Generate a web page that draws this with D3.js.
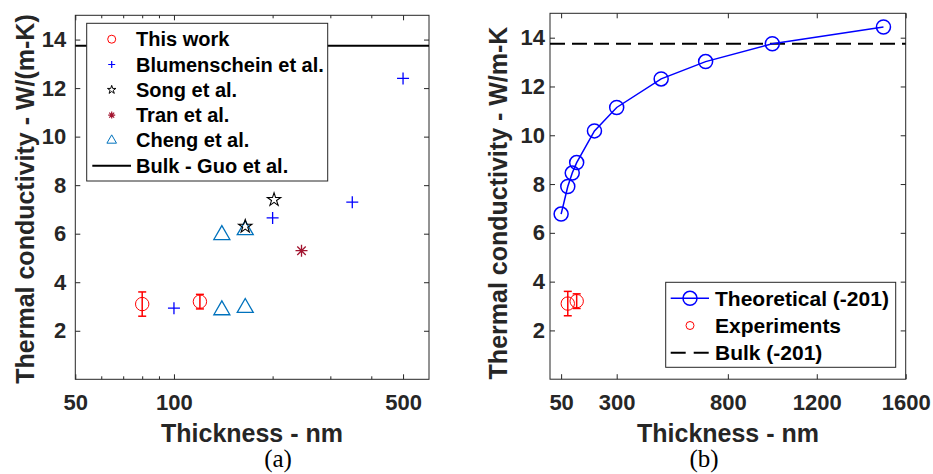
<!DOCTYPE html>
<html>
    <head>
        <title>Thermal conductivity vs thickness</title>
        <style>
            html, body { margin: 0; padding: 0; background: #fff; }
            text { font-family: "Liberation Sans", Arial, sans-serif; font-weight: bold; }
        </style>
        <script src="https://cdnjs.cloudflare.com/ajax/libs/d3/7.8.5/d3.min.js"></script>
    </head>
    <body>
        <div id="chart"></div>
        <script type="text/javascript">
            // panel (a) - literature comparison
            var thisWorkX = [80, 120], thisWorkY = [3.1, 3.2], thisWorkErr = [0.5, 0.3];
            var blumX = [100, 200, 350, 500], blumY = [2.93, 6.65, 7.3, 12.4];
            var songX = [165, 202], songY = [6.3, 7.4];
            var tranX = [245], tranY = [5.3];
            var chengX = [140, 165, 140, 165], chengY = [5.95, 6.15, 2.85, 2.95];
            var bulkGuo = 13.75;
            var legendA = ["This work", "Blumenschein et al.", "Song et al.", "Tran et al.", "Cheng et al.", "Bulk - Guo et al."];
            var xTicksA = [50, 100, 500], xMinorA = [60, 70, 80, 90, 200, 300, 400];

            // panel (b) - theory vs experiment
            var theoX = [50, 80, 100, 120, 200, 300, 500, 700, 1000, 1500];
            var theoY = [6.77, 7.9, 8.45, 8.88, 10.18, 11.14, 12.31, 13.02, 13.75, 14.44];
            var expX = [80, 120], expY = [3.1, 3.2], expErr = [0.5, 0.3];
            var bulk201 = 13.75;
            var legendB = ["Theoretical (-201)", "Experiments", "Bulk (-201)"];
            var xTicksB = [50, 300, 800, 1200, 1600];
            var yTicks = [2, 4, 6, 8, 10, 12, 14];

            var w = 933, h = 474;
            var axisColor = "#262626";
            var svg = d3.select("#chart").append("svg").attr("width", w).attr("height", h);

            var xa = d3.scaleLog().domain([50, 600]).range([75.3, 429]);
            var ya = d3.scaleLinear().domain([0, 15]).range([379.3, 15.3]);
            var xb = d3.scaleLinear().domain([0, 1600]).range([550, 905.7]);
            var yb = d3.scaleLinear().domain([0, 15]).range([379.2, 13.3]);

            function plus(s) { return `M${-s},0H${s}M0,${-s}V${s}`; }
            function asterisk(s) {
                var d = s * 0.7071;
                return plus(s) + `M${-d},${-d}L${d},${d}M${-d},${d}L${d},${-d}`;
            }

            function drawAxes(x, y, xTicks, xMinor, fmt, yPad) {
                var x0 = x.range()[0], x1 = x.range()[1], y0 = y.range()[0], y1 = y.range()[1];
                var g = svg.append("g");
                g.append("g").attr("transform", `translate(0,${y0})`)
                    .call(d3.axisBottom(x).tickValues(xTicks).tickFormat(fmt).tickSizeInner(-5).tickSizeOuter(0).tickPadding(15));
                g.append("g").attr("transform", `translate(0,${y1})`)
                    .call(d3.axisTop(x).tickValues(xTicks).tickFormat("").tickSizeInner(-5).tickSizeOuter(0));
                if (xMinor.length) {
                    g.append("g").attr("transform", `translate(0,${y0})`)
                        .call(d3.axisBottom(x).tickValues(xMinor).tickFormat("").tickSizeInner(-3).tickSizeOuter(0));
                    g.append("g").attr("transform", `translate(0,${y1})`)
                        .call(d3.axisTop(x).tickValues(xMinor).tickFormat("").tickSizeInner(-3).tickSizeOuter(0));
                }
                g.append("g").attr("transform", `translate(${x0},0)`)
                    .call(d3.axisLeft(y).tickValues(yTicks).tickSizeInner(-5).tickSizeOuter(0).tickPadding(yPad));
                g.append("g").attr("transform", `translate(${x1},0)`)
                    .call(d3.axisRight(y).tickValues(yTicks).tickFormat("").tickSizeInner(-5).tickSizeOuter(0));
                g.selectAll(".domain").remove();
                g.selectAll(".tick line").attr("stroke", axisColor);
                g.selectAll(".tick text").attr("fill", axisColor).style("font-size", "22px");
                g.append("rect").attr("x", x0).attr("y", y1).attr("width", x1 - x0).attr("height", y0 - y1)
                    .attr("fill", "none").attr("stroke", axisColor).attr("stroke-width", 1);
            }

            function errorBars(x, y, xs, ys, es) {
                var g = svg.append("g").attr("stroke", "#ff0000").attr("stroke-width", 1.5);
                xs.forEach(function(v, i) {
                    var cx = x(v), t = y(ys[i] + es[i]), b = y(ys[i] - es[i]);
                    g.append("line").attr("x1", cx).attr("x2", cx).attr("y1", t).attr("y2", b);
                    g.append("line").attr("x1", cx - 4).attr("x2", cx + 4).attr("y1", t).attr("y2", t);
                    g.append("line").attr("x1", cx - 4).attr("x2", cx + 4).attr("y1", b).attr("y2", b);
                });
                svg.selectAll(null).data(xs).enter().append("circle")
                    .attr("cx", function(d) { return x(d); })
                    .attr("cy", function(d, i) { return y(ys[i]); })
                    .attr("r", 6.7).attr("fill", "none").attr("stroke", "#ff0000").attr("stroke-width", 1);
            }

            // ---------- panel (a)
            drawAxes(xa, ya, xTicksA, xMinorA, d3.format("d"), 9);

            svg.append("line").attr("x1", xa.range()[0]).attr("x2", xa.range()[1])
                .attr("y1", ya(bulkGuo)).attr("y2", ya(bulkGuo))
                .attr("stroke", "#000").attr("stroke-width", 2);

            errorBars(xa, ya, thisWorkX, thisWorkY, thisWorkErr);

            svg.selectAll(".blum").data(blumX).enter().append("path")
                .attr("transform", function(d, i) { return `translate(${xa(d)},${ya(blumY[i])})`; })
                .attr("d", plus(6)).attr("stroke", "#0000ff").attr("stroke-width", 1.3).attr("fill", "none");

            svg.selectAll(".cheng").data(chengX).enter().append("path")
                .attr("transform", function(d, i) { return `translate(${xa(d)},${ya(chengY[i])})`; })
                .attr("d", d3.symbol(d3.symbolTriangle, 111)()).attr("stroke", "#0072bd").attr("stroke-width", 1.3).attr("fill", "none");

            svg.selectAll(".song").data(songX).enter().append("path")
                .attr("transform", function(d, i) { return `translate(${xa(d)},${ya(songY[i])})`; })
                .attr("d", d3.symbol(d3.symbolStar, 55)()).attr("stroke", "#000").attr("stroke-width", 1.1).attr("fill", "none");

            svg.selectAll(".tran").data(tranX).enter().append("path")
                .attr("transform", function(d, i) { return `translate(${xa(d)},${ya(tranY[i])})`; })
                .attr("d", asterisk(6)).attr("stroke", "#a2142f").attr("stroke-width", 1.3).attr("fill", "none");

            // legend (a)
            var la = svg.append("g");
            la.append("rect").attr("x", 86.7).attr("y", 23.3).attr("width", 241).attr("height", 157.7)
                .attr("fill", "#fff").attr("stroke", axisColor).attr("stroke-width", 1);
            var lay = d3.scalePoint().domain(legendA).range([39.2, 165.7]);
            var mx = 111.7;
            la.append("circle").attr("cx", mx).attr("cy", lay(legendA[0])).attr("r", 4).attr("fill", "none").attr("stroke", "#ff0000");
            la.append("path").attr("transform", `translate(${mx},${lay(legendA[1])})`).attr("d", plus(3.5)).attr("stroke", "#0000ff").attr("stroke-width", 1.2);
            la.append("path").attr("transform", `translate(${mx},${lay(legendA[2])})`).attr("d", d3.symbol(d3.symbolStar, 22)()).attr("stroke", "#000").attr("fill", "none");
            la.append("path").attr("transform", `translate(${mx},${lay(legendA[3])})`).attr("d", asterisk(3.5)).attr("stroke", "#a2142f").attr("stroke-width", 1.2);
            la.append("path").attr("transform", `translate(${mx},${lay(legendA[4])})`).attr("d", d3.symbol(d3.symbolTriangle, 40)()).attr("stroke", "#0072bd").attr("fill", "none");
            la.append("line").attr("x1", 92.3).attr("x2", 131).attr("y1", lay(legendA[5])).attr("y2", lay(legendA[5])).attr("stroke", "#000").attr("stroke-width", 2);
            la.selectAll("text").data(legendA).enter().append("text")
                .attr("x", 136).attr("y", function(d) { return lay(d) + 7; })
                .style("font-size", "20px").attr("fill", "#000").text(function(d) { return d; });

            // ---------- panel (b)
            drawAxes(xb, yb, xTicksB, [], d3.format("d"), 5);

            svg.append("line").attr("x1", xb.range()[0]).attr("x2", xb.range()[1])
                .attr("y1", yb(bulk201)).attr("y2", yb(bulk201))
                .attr("stroke", "#000").attr("stroke-width", 2).attr("stroke-dasharray", "15,7");

            var line = d3.line().x(function(d) { return xb(d); }).y(function(d, i) { return yb(theoY[i]); });
            svg.append("path").attr("d", line(theoX)).attr("fill", "none").attr("stroke", "#0000ff").attr("stroke-width", 1.5);
            svg.selectAll(".theo").data(theoX).enter().append("circle")
                .attr("cx", function(d) { return xb(d); })
                .attr("cy", function(d, i) { return yb(theoY[i]); })
                .attr("r", 7).attr("fill", "none").attr("stroke", "#0000ff").attr("stroke-width", 1.5);

            errorBars(xb, yb, expX, expY, expErr);

            // legend (b)
            var lb = svg.append("g");
            lb.append("rect").attr("x", 665.7).attr("y", 282.3).attr("width", 230).attr("height", 85)
                .attr("fill", "#fff").attr("stroke", axisColor).attr("stroke-width", 1);
            var lby = d3.scalePoint().domain(legendB).range([298.3, 352.7]);
            lb.append("line").attr("x1", 670.7).attr("x2", 709).attr("y1", lby(legendB[0])).attr("y2", lby(legendB[0])).attr("stroke", "#0000ff").attr("stroke-width", 1.5);
            lb.append("circle").attr("cx", 690).attr("cy", lby(legendB[0])).attr("r", 7).attr("fill", "none").attr("stroke", "#0000ff").attr("stroke-width", 1.5);
            lb.append("circle").attr("cx", 690).attr("cy", lby(legendB[1])).attr("r", 4).attr("fill", "none").attr("stroke", "#ff0000");
            lb.append("line").attr("x1", 670.7).attr("x2", 709).attr("y1", lby(legendB[2])).attr("y2", lby(legendB[2])).attr("stroke", "#000").attr("stroke-width", 2).attr("stroke-dasharray", "15,8");
            lb.selectAll("text").data(legendB).enter().append("text")
                .attr("x", 715).attr("y", function(d) { return lby(d) + 7.5; })
                .style("font-size", "21px").attr("fill", "#000").text(function(d) { return d; });

            // axis titles and panel captions
            var titles = svg.append("g").attr("fill", axisColor).style("font-size", "25px").attr("text-anchor", "middle");
            titles.append("text").attr("x", 252).attr("y", 442).text("Thickness - nm");
            titles.append("text").attr("x", 728).attr("y", 442).text("Thickness - nm");
            titles.append("text").attr("transform", "translate(33.5,199) rotate(-90)").text("Thermal conductivity - W/(m-K)");
            titles.append("text").attr("transform", "translate(507,203) rotate(-90)").text("Thermal conductivity - W/m-K");

            svg.append("text").attr("x", 278).attr("y", 467).attr("text-anchor", "middle")
                .style("font-family", "'Liberation Serif', 'Times New Roman', serif").style("font-weight", "normal")
                .style("font-size", "25px").text("(a)");
            svg.append("text").attr("x", 704).attr("y", 467).attr("text-anchor", "middle")
                .style("font-family", "'Liberation Serif', 'Times New Roman', serif").style("font-weight", "normal")
                .style("font-size", "25px").text("(b)");
        </script>
    </body>
</html>
